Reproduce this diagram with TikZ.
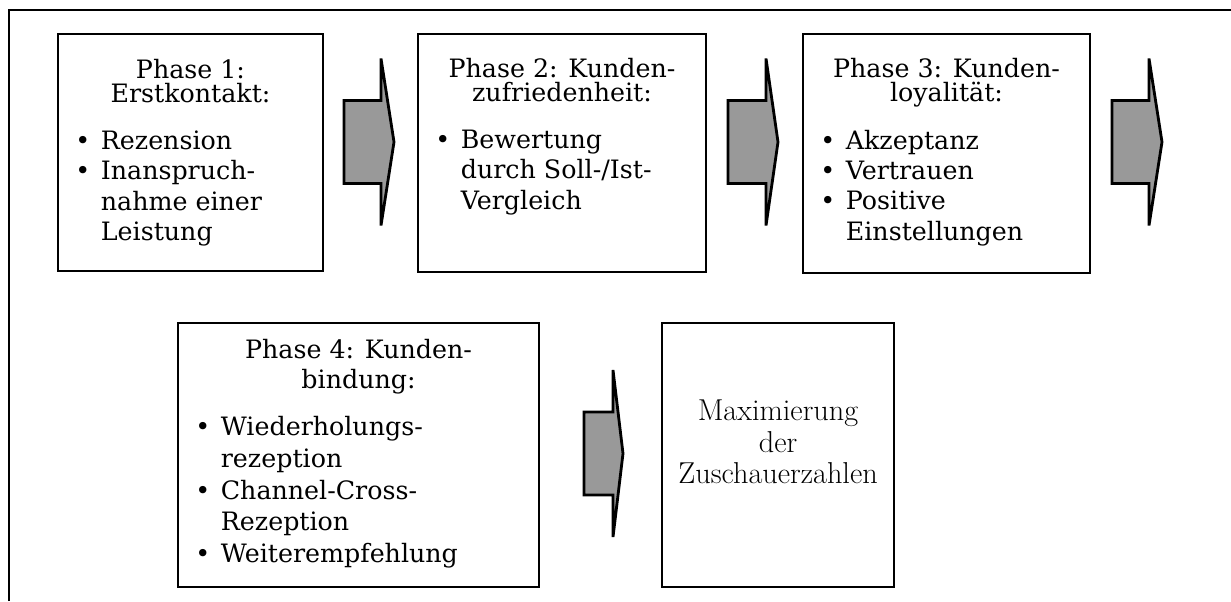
\documentclass[tikz,border=0pt]{standalone}
\usepackage{fontspec}
\newfontfamily\phasefont{DejaVu Serif}
\usepackage{tikz}
\usetikzlibrary{positioning}

\definecolor{arrowgray}{RGB}{153,153,153}

% bullet and hanging indent for the phase lists
\newcommand{\itm}{\makebox[0.64cm][l]{\textbullet}}
\newcommand{\cnt}{\hspace*{0.64cm}}

% big block arrow: tail x, notch x, tip x, middle y
\newcommand{\stagearrow}[4]{%
  \draw[bigarrow] (#1,#4-41.5) -- (#2,#4-41.5) -- (#2,#4-83.5) -- (#3,#4)
    -- (#2,#4+83.5) -- (#2,#4+41.5) -- (#1,#4+41.5) -- cycle;}

\begin{document}
\begin{tikzpicture}[x=0.025cm, y=-0.025cm,
    phasebox/.style={draw, line width=1.4pt, anchor=north west, inner sep=0pt},
    head/.style={align=center, inner sep=0pt, font=\phasefont\fontsize{18}{17}\selectfont},
    items/.style={align=left, inner sep=0pt, font=\phasefont\fontsize{18}{21.5}\selectfont},
    goaltext/.style={align=center, inner sep=0pt, font=\fontsize{21.5}{22.3}\selectfont},
    bigarrow/.style={draw, line width=2pt, fill=arrowgray, line join=miter},
    frame/.style={line width=1.8pt}
]
\useasboundingbox (0,0) rectangle (1231,601);
\draw[frame] (9,601) |- (1231,10);

% the five boxes
\node[phasebox, minimum width=6.625cm, minimum height=5.925cm] (p1) at (57,33) {};
\node[phasebox, minimum width=7.2cm, minimum height=5.95cm] (p2) at (417,33) {};
\node[phasebox, minimum width=7.175cm, minimum height=5.975cm] (p3) at (802,33) {};
\node[phasebox, minimum width=9.025cm, minimum height=6.6cm] (p4) at (177,322) {};
\node[phasebox, minimum width=5.8cm, minimum height=6.6cm] (goal) at (661,322) {};

% headings
\node[head, below=0.65cm of p1.north] (p1h) {Phase 1:\\Erstkontakt:};
\node[head, below=0.62cm of p2.north] (p2h) {Phase 2: Kunden-\\zufriedenheit:};
\node[head, below=0.62cm of p3.north] (p3h) {Phase 3: Kunden-\\loyalität:};
\node[head, below=0.42cm of p4.north, font=\phasefont\fontsize{18}{21.5}\selectfont] (p4h) {Phase 4: Kunden-\\bindung:};

% lists
\node[items, below right=2.44cm and 0.45cm of p1.north west] (p1l)
  {\itm Rezension\\ \itm Inanspruch-\\ \cnt nahme einer\\ \cnt Leistung};
\node[items, below right=2.42cm and 0.45cm of p2.north west] (p2l)
  {\itm Bewertung\\ \cnt durch Soll-/Ist-\\ \cnt Vergleich};
\node[items, below right=2.42cm and 0.45cm of p3.north west] (p3l)
  {\itm Akzeptanz\\ \itm Vertrauen\\ \itm Positive\\ \cnt Einstellungen};
\node[items, below right=2.36cm and 0.45cm of p4.north west, font=\phasefont\fontsize{18}{22.5}\selectfont] (p4l)
  {\itm Wiederholungs-\\ \cnt rezeption\\ \itm Channel-Cross-\\ \cnt Rezeption\\ \itm Weiterempfehlung};

\node[goaltext, below=1.95cm of goal.north] (goalt) {Maximierung\\der\\Zuschauerzahlen};

% arrows between the stages
\stagearrow{344}{381}{394}{142}
\stagearrow{728}{766}{778}{142}
\stagearrow{1112}{1149}{1162}{142}
\stagearrow{584}{613}{623}{453.5}
\end{tikzpicture}
\end{document}
